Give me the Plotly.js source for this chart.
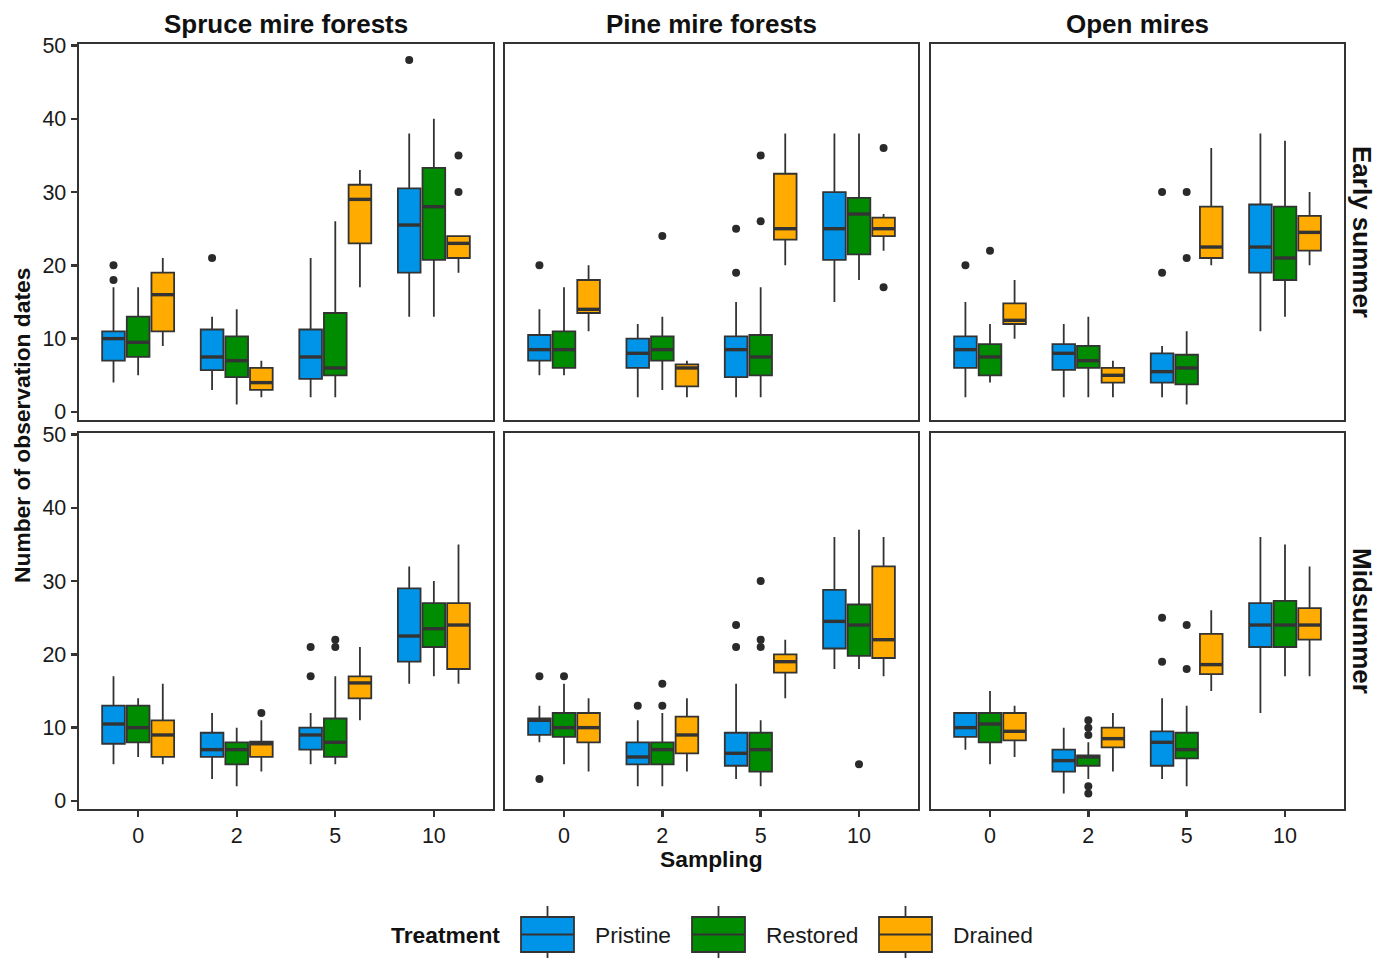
<!DOCTYPE html>
<html>
<head>
<meta charset="utf-8">
<script src="https://cdn.plot.ly/plotly-3.0.1.min.js"></script>
<style>html,body{margin:0;padding:0;background:#fff;}#chart{width:1387px;height:958px;}</style>
</head>
<body>
<div id="chart"></div>
<script>
// ---------- categories ----------
const sampling = ['0', '2', '5', '10'];
const treatments = ['Pristine', 'Restored', 'Drained'];
const habitats = ['Spruce mire forests', 'Pine mire forests', 'Open mires'];
const seasons = ['Early summer', 'Midsummer'];

// ---------- data: rows = Pristine, Restored, Drained; columns = sampling 0, 2, 5, 10 ----------
// Spruce mire forests, Early summer
const spruceEarlyLow  = [[4, 3, 2, 13], [5, 1, 2, 13], [9, 2, 17, 19]];
const spruceEarlyQ1   = [[7, 5.7, 4.5, 19], [7.5, 4.75, 5, 20.75], [11, 3, 23, 21]];
const spruceEarlyMed  = [[10, 7.5, 7.5, 25.5], [9.5, 7, 6, 28], [16, 4, 29, 23]];
const spruceEarlyQ3   = [[11, 11.25, 11.25, 30.5], [13, 10.3, 13.5, 33.3], [19, 6, 31, 24]];
const spruceEarlyHigh = [[17, 13, 21, 38], [17, 14, 26, 40], [21, 7, 33, 24]];
const spruceEarlyOut  = [[[20, 18], [21], [], [48]], [[], [], [], []], [[], [], [], [35, 30]]];

// Pine mire forests, Early summer
const pineEarlyLow  = [[5, 2, 2, 15], [5, 3, 2, 18], [11, 2, 20, 22]];
const pineEarlyQ1   = [[7, 6, 4.75, 20.75], [6, 7, 5, 21.5], [13.5, 3.5, 23.5, 24]];
const pineEarlyMed  = [[8.5, 8, 8.5, 25], [8.5, 8.5, 7.5, 27], [14, 6, 25, 25]];
const pineEarlyQ3   = [[10.5, 10, 10.3, 30], [11, 10.3, 10.5, 29.2], [18, 6.5, 32.5, 26.5]];
const pineEarlyHigh = [[14, 12, 15, 38], [17, 13, 17, 38], [20, 7, 38, 27]];
const pineEarlyOut  = [[[20], [], [25, 19], []], [[], [24], [35, 26], []], [[], [], [], [36, 17]]];

// Open mires, Early summer
const openEarlyLow  = [[2, 2, 2, 11], [4, 2, 1, 13], [10, 2, 20, 20]];
const openEarlyQ1   = [[6, 5.75, 4, 19], [5, 6, 3.75, 18], [12, 4, 21, 22]];
const openEarlyMed  = [[8.5, 8, 5.5, 22.5], [7.5, 7, 6, 21], [12.5, 5, 22.5, 24.5]];
const openEarlyQ3   = [[10.3, 9.25, 8, 28.3], [9.25, 9, 7.8, 28], [14.8, 6, 28, 26.75]];
const openEarlyHigh = [[15, 12, 9, 38], [12, 13, 11, 37], [18, 7, 36, 30]];
const openEarlyOut  = [[[20], [], [30, 19], []], [[22], [], [30, 21], []], [[], [], [], []]];

// Spruce mire forests, Midsummer
const spruceMidLow  = [[5, 3, 5, 16], [6, 2, 5, 17], [5, 4, 11, 16]];
const spruceMidQ1   = [[7.8, 6, 7, 19], [8, 5, 6, 21], [6, 6, 14, 18]];
const spruceMidMed  = [[10.5, 7, 9, 22.5], [10, 7, 8, 23.5], [9, 7.8, 16.1, 24]];
const spruceMidQ3   = [[13, 9.3, 10, 29], [13, 8, 11.25, 27], [11, 8.1, 17, 27]];
const spruceMidHigh = [[17, 12, 12, 32], [14, 10, 17, 30], [16, 11, 21, 35]];
const spruceMidOut  = [[[], [], [21, 17], []], [[], [], [22, 21], []], [[], [12], [], []]];

// Pine mire forests, Midsummer
const pineMidLow  = [[8, 2, 3, 18], [5, 2, 2, 18], [4, 4, 14, 17]];
const pineMidQ1   = [[9, 5, 4.8, 20.8], [8.75, 5, 4, 19.8], [8, 6.5, 17.5, 19.5]];
const pineMidMed  = [[11, 6, 6.5, 24.5], [10, 7, 7, 24], [10, 9, 19, 22]];
const pineMidQ3   = [[11.25, 8, 9.3, 28.8], [12, 8, 9.3, 26.8], [12, 11.5, 20, 32]];
const pineMidHigh = [[13, 11, 16, 36], [16, 12, 11, 37], [14, 14, 22, 36]];
const pineMidOut  = [[[17, 3], [13], [24, 21], []], [[17], [16, 13], [30, 22, 21], [5]], [[], [], [], []]];

// Open mires, Midsummer
const openMidLow  = [[7, 1, 3, 12], [5, 3, 2, 17], [6, 4, 15, 17]];
const openMidQ1   = [[8.75, 4, 4.8, 21], [8, 4.8, 5.8, 21], [8.25, 7.3, 17.3, 22]];
const openMidMed  = [[10, 5.5, 8, 24], [10.5, 6, 7, 24], [9.5, 8.5, 18.6, 24]];
const openMidQ3   = [[12, 7, 9.5, 27], [12, 6.2, 9.3, 27.3], [12, 10, 22.8, 26.3]];
const openMidHigh = [[12, 10, 14, 36], [15, 8, 13, 35], [13, 12, 26, 32]];
const openMidOut  = [[[], [], [25, 19], []], [[], [11, 10, 9, 2, 1], [24, 18], []], [[], [], [], []]];

const yTicks = [0, 10, 20, 30, 40, 50];

// ---------- styling ----------
const treatColors = ['#0094E8', '#008C00', '#FFAB00'];
const dodge = [-0.25, 0, 0.25];
const boxW = 0.23;
const ink = '#333333';
const FONT = '"Liberation Sans", Arial, Helvetica, sans-serif';
const W = 1387, H = 958;
const px = x => x / W;
const py = y => 1 - y / H;
const colPx = [[79, 493], [505, 918], [931, 1344]];
const rowPx = [[44, 420], [433, 809]];

const panels = [
  {row: 0, col: 0, low: spruceEarlyLow, q1: spruceEarlyQ1, med: spruceEarlyMed, q3: spruceEarlyQ3, high: spruceEarlyHigh, out: spruceEarlyOut},
  {row: 0, col: 1, low: pineEarlyLow, q1: pineEarlyQ1, med: pineEarlyMed, q3: pineEarlyQ3, high: pineEarlyHigh, out: pineEarlyOut},
  {row: 0, col: 2, low: openEarlyLow, q1: openEarlyQ1, med: openEarlyMed, q3: openEarlyQ3, high: openEarlyHigh, out: openEarlyOut},
  {row: 1, col: 0, low: spruceMidLow, q1: spruceMidQ1, med: spruceMidMed, q3: spruceMidQ3, high: spruceMidHigh, out: spruceMidOut},
  {row: 1, col: 1, low: pineMidLow, q1: pineMidQ1, med: pineMidMed, q3: pineMidQ3, high: pineMidHigh, out: pineMidOut},
  {row: 1, col: 2, low: openMidLow, q1: openMidQ1, med: openMidMed, q3: openMidQ3, high: openMidHigh, out: openMidOut}
];

const traces = [];
const layout = {
  width: W, height: H,
  margin: {l: 0, r: 0, t: 0, b: 0},
  paper_bgcolor: '#ffffff', plot_bgcolor: '#ffffff',
  showlegend: false,
  font: {family: FONT, color: '#1a1a1a', size: 21},
  boxmode: 'overlay',
  annotations: [], shapes: []
};

panels.forEach((p, i) => {
  const n = i + 1;
  const suf = n === 1 ? '' : String(n);
  const xa = 'x' + suf, ya = 'y' + suf;
  p.low.forEach((_, t) => {
    const pos = sampling.map((_, k) => k + dodge[t]);
    traces.push({
      type: 'box', xaxis: xa, yaxis: ya, x: pos,
      q1: p.q1[t], median: p.med[t], q3: p.q3[t],
      lowerfence: p.low[t], upperfence: p.high[t],
      width: boxW, whiskerwidth: 0, boxpoints: false,
      fillcolor: treatColors[t], line: {color: ink, width: 1.8},
      name: treatments[t], hoverinfo: 'skip', showlegend: false
    });
    // thicker median bars
    const mx = [], my = [];
    pos.forEach((c, k) => { mx.push(c - boxW / 2, c + boxW / 2, null); my.push(p.med[t][k], p.med[t][k], null); });
    traces.push({type: 'scatter', mode: 'lines', xaxis: xa, yaxis: ya, x: mx, y: my,
      line: {color: ink, width: 3.4}, hoverinfo: 'skip', showlegend: false});
    // outliers
    const ox = [], oy = [];
    pos.forEach((c, k) => p.out[t][k].forEach(v => { ox.push(c); oy.push(v); }));
    if (ox.length) traces.push({type: 'scatter', mode: 'markers', xaxis: xa, yaxis: ya, x: ox, y: oy,
      marker: {color: '#2a2a2a', size: 8}, hoverinfo: 'skip', showlegend: false, cliponaxis: false});
  });
  const cx = colPx[p.col], ry = rowPx[p.row];
  layout['xaxis' + suf] = {
    domain: [px(cx[0]), px(cx[1])], anchor: ya, range: [-0.6, 3.6],
    tickvals: sampling.map((_, k) => k), ticktext: sampling,
    showticklabels: p.row === 1, ticks: p.row === 1 ? 'outside' : '',
    ticklen: 6, tickwidth: 2.4, tickcolor: ink,
    tickfont: {size: 21.5, color: '#1a1a1a', family: FONT},
    showline: true, mirror: true, linecolor: ink, linewidth: 2.4,
    showgrid: false, zeroline: false, fixedrange: true
  };
  layout['yaxis' + suf] = {
    domain: [py(ry[1]), py(ry[0])], anchor: xa, range: [-1.1, 50.2],
    tickvals: yTicks, ticktext: yTicks.map(String),
    showticklabels: p.col === 0, ticks: p.col === 0 ? 'outside' : '',
    ticklen: 6, tickwidth: 2.4, tickcolor: ink,
    tickfont: {size: 21.5, color: '#1a1a1a', family: FONT},
    showline: true, mirror: true, linecolor: ink, linewidth: 2.4,
    showgrid: false, zeroline: false, fixedrange: true
  };
});

// strip labels (columns)
habitats.forEach((h, c) => {
  layout.annotations.push({text: '<b>' + h + '</b>', xref: 'paper', yref: 'paper',
    x: px((colPx[c][0] + colPx[c][1]) / 2), y: py(24), xanchor: 'center', yanchor: 'middle',
    showarrow: false, font: {size: 26, color: '#111', family: FONT}});
});
// strip labels (rows)
seasons.forEach((s, r) => {
  layout.annotations.push({text: '<b>' + s + '</b>', xref: 'paper', yref: 'paper',
    x: px(1362), y: py((rowPx[r][0] + rowPx[r][1]) / 2), xanchor: 'center', yanchor: 'middle',
    textangle: 90, showarrow: false, font: {size: 26, color: '#111', family: FONT}});
});
// axis titles
layout.annotations.push({text: '<b>Number of observation dates</b>', xref: 'paper', yref: 'paper',
  x: px(22), y: py(426), xanchor: 'center', yanchor: 'middle', textangle: -90,
  showarrow: false, font: {size: 22.8, color: '#111', family: FONT}});
layout.annotations.push({text: '<b>Sampling</b>', xref: 'paper', yref: 'paper',
  x: px(711.5), y: py(859), xanchor: 'center', yanchor: 'middle',
  showarrow: false, font: {size: 22.8, color: '#111', family: FONT}});

// custom legend
layout.annotations.push({text: '<b>Treatment</b>', xref: 'paper', yref: 'paper',
  x: px(389), y: py(935), xanchor: 'left', yanchor: 'middle',
  showarrow: false, font: {size: 22.8, color: '#111', family: FONT}});
const keyX = [521, 692, 879];
treatments.forEach((t, i) => {
  const x0 = keyX[i], x1 = x0 + 53, xc = x0 + 26.5;
  layout.shapes.push({type: 'line', xref: 'paper', yref: 'paper', x0: px(xc), x1: px(xc), y0: py(906), y1: py(958),
    line: {color: ink, width: 1.8}});
  layout.shapes.push({type: 'rect', xref: 'paper', yref: 'paper', x0: px(x0), x1: px(x1), y0: py(917), y1: py(952),
    fillcolor: treatColors[i], line: {color: ink, width: 1.8}});
  layout.shapes.push({type: 'line', xref: 'paper', yref: 'paper', x0: px(x0), x1: px(x1), y0: py(934.5), y1: py(934.5),
    line: {color: ink, width: 1.8}});
  layout.annotations.push({text: t, xref: 'paper', yref: 'paper',
    x: px(x1 + 19), y: py(935), xanchor: 'left', yanchor: 'middle',
    showarrow: false, font: {size: 22.8, color: '#1a1a1a', family: FONT}});
});

Plotly.newPlot('chart', traces, layout, {displayModeBar: false, staticPlot: true});
</script>
</body>
</html>
